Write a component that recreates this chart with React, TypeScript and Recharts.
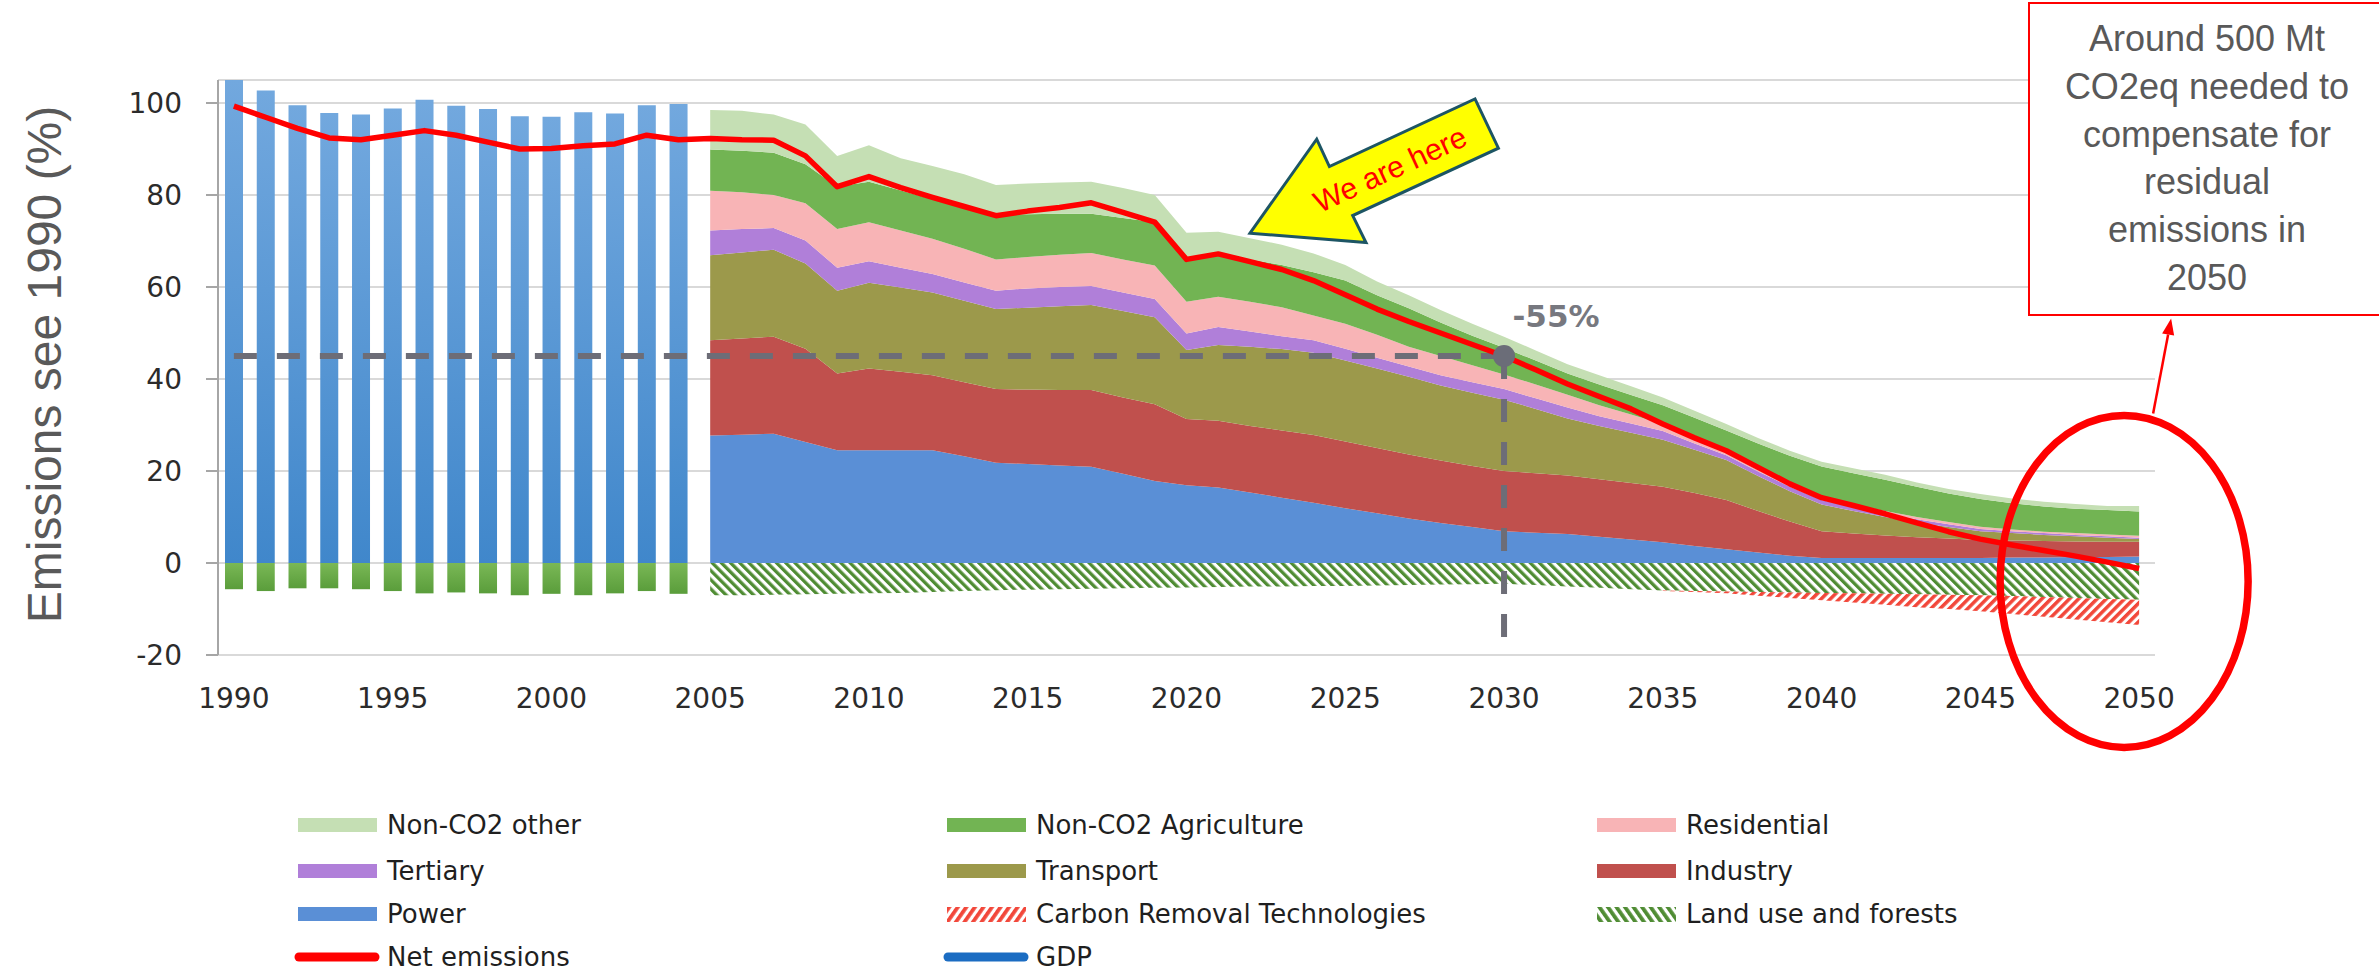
import React from 'react';
import {
  ComposedChart,
  Area,
  Bar,
  Line,
  XAxis,
  YAxis,
  CartesianGrid,
  ReferenceLine,
  ReferenceDot,
} from 'recharts';

// categories: one per year
const years = [
  1990, 1991, 1992, 1993, 1994, 1995, 1996, 1997, 1998, 1999,
  2000, 2001, 2002, 2003, 2004, 2005, 2006, 2007, 2008, 2009,
  2010, 2011, 2012, 2013, 2014, 2015, 2016, 2017, 2018, 2019,
  2020, 2021, 2022, 2023, 2024, 2025, 2026, 2027, 2028, 2029,
  2030, 2031, 2032, 2033, 2034, 2035, 2036, 2037, 2038, 2039,
  2040, 2041, 2042, 2043, 2044, 2045, 2046, 2047, 2048, 2049,
  2050,
];

// historic bars 1990-2004
const histTotal = [105.0, 102.7, 99.5, 97.8, 97.5, 98.8, 100.7, 99.4, 98.7, 97.1, 97.0, 98.0, 97.7, 99.5, 99.8];
const histLandUse = [-5.7, -6.1, -5.5, -5.5, -5.7, -6.1, -6.6, -6.4, -6.6, -7.0, -6.7, -7.0, -6.6, -6.1, -6.7];

// projection areas 2005-2050
const power = [
  27.7, 27.9, 28.1, 26.3, 24.5, 24.5, 24.5, 24.5, 23.2, 21.8,
  21.5, 21.2, 20.9, 19.4, 17.8, 16.9, 16.4, 15.3, 14.2, 13.1,
  11.9, 10.8, 9.7, 8.7, 7.8, 6.9, 6.6, 6.3, 5.7, 5.1,
  4.5, 3.7, 3.0, 2.3, 1.6, 1.1, 1.1, 1.1, 1.1, 1.1,
  1.1, 1.2, 1.2, 1.3, 1.3, 1.4,
];
const industry = [
  20.7, 20.9, 21.1, 20.3, 16.7, 17.8, 17.1, 16.3, 16.1, 16.0,
  16.2, 16.4, 16.7, 16.6, 16.7, 14.4, 14.5, 14.5, 14.6, 14.7,
  14.5, 14.2, 13.9, 13.6, 13.3, 13.1, 12.9, 12.7, 12.5, 12.3,
  12.1, 11.5, 10.7, 9.0, 7.4, 5.8, 5.3, 4.9, 4.5, 4.2,
  3.9, 3.7, 3.6, 3.4, 3.3, 3.2,
];
const transport = [
  18.5, 18.7, 18.9, 18.5, 18.0, 18.6, 18.3, 18.0, 17.7, 17.4,
  17.8, 18.2, 18.5, 18.8, 18.9, 15.0, 16.5, 17.2, 17.7, 17.9,
  17.6, 17.3, 16.9, 16.3, 15.9, 15.5, 14.0, 12.4, 11.6, 10.9,
  10.2, 9.4, 8.7, 7.6, 6.6, 5.8, 4.9, 4.0, 3.2, 2.5,
  1.9, 1.6, 1.3, 1.1, 0.9, 0.6,
];
const tertiary = [
  5.4, 5.1, 4.7, 5.0, 5.0, 4.7, 4.3, 4.0, 4.0, 4.0,
  4.2, 4.2, 4.1, 4.0, 4.0, 3.6, 3.9, 3.3, 2.8, 2.7,
  2.6, 2.3, 2.2, 2.2, 2.3, 2.3, 2.3, 2.4, 2.1, 2.0,
  1.9, 1.4, 1.0, 1.0, 1.0, 1.0, 0.8, 0.7, 0.7, 0.6,
  0.5, 0.4, 0.4, 0.3, 0.3, 0.3,
];
const residential = [
  8.6, 8.0, 7.2, 8.1, 8.4, 8.5, 8.1, 7.7, 7.3, 6.8,
  6.8, 7.0, 7.2, 7.2, 7.3, 6.9, 6.6, 6.5, 6.3, 5.4,
  5.4, 5.0, 4.3, 4.2, 3.7, 3.2, 3.0, 2.8, 2.4, 2.0,
  1.5, 1.3, 1.0, 0.9, 0.8, 0.5, 0.6, 0.6, 0.5, 0.5,
  0.5, 0.4, 0.3, 0.4, 0.4, 0.4,
];
const agriculture = [
  9.0, 9.0, 9.2, 8.5, 9.2, 8.8, 8.7, 8.6, 9.2, 9.8,
  9.3, 8.9, 8.5, 9.0, 9.4, 9.0, 9.4, 9.2, 9.2, 9.4,
  9.4, 8.6, 8.4, 7.3, 6.4, 5.8, 5.2, 4.6, 4.5, 4.2,
  4.1, 4.3, 4.4, 5.2, 5.9, 6.8, 6.8, 6.8, 6.6, 6.2,
  6.0, 5.7, 5.5, 5.3, 5.3, 5.3,
];
const otherNonCo2 = [
  8.6, 8.7, 8.3, 8.6, 6.7, 7.9, 7.0, 7.2, 7.0, 6.4,
  6.7, 6.8, 7.0, 6.5, 5.9, 6.0, 4.7, 4.6, 4.4, 4.1,
  3.4, 3.0, 2.8, 2.7, 2.6, 2.4, 2.2, 2.0, 2.0, 1.9,
  1.7, 1.5, 1.4, 1.2, 1.1, 1.0, 1.1, 1.1, 0.9, 1.0,
  1.1, 1.0, 1.0, 1.0, 0.9, 1.2,
];
const landUse = [
  -7.0, -7.0, -6.9, -6.8, -6.7, -6.6, -6.5, -6.3, -6.1, -5.9,
  -5.8, -5.7, -5.6, -5.5, -5.4, -5.3, -5.2, -5.1, -5.1, -5.0,
  -5.0, -4.9, -4.8, -4.7, -4.6, -4.5, -4.8, -5.1, -5.4, -5.7,
  -6.0, -6.1, -6.2, -6.3, -6.4, -6.5, -6.6, -6.7, -6.8, -6.9,
  -7.0, -7.2, -7.4, -7.6, -7.8, -8.0,
];
const carbonRemoval = [
  null, null, null, null, null, null, null, null, null, null,
  null, null, null, null, null, null, null, null, null, null,
  null, null, null, null, null, null, null, null, null, null,
  -0.1, -0.2, -0.4, -0.8, -1.2, -1.6, -2.0, -2.4, -2.8, -3.1,
  -3.5, -3.9, -4.3, -4.7, -5.1, -5.5,
];

// net emissions 1990-2050
const netEmissions = [
  99.3, 96.9, 94.5, 92.4, 92.0, 93.0, 94.0, 93.0, 91.5, 90.0,
  90.1, 90.7, 91.1, 93.0, 92.0,
  92.3, 92.0, 91.9, 88.5, 81.8, 84.0, 81.6, 79.5, 77.5, 75.5,
  76.5, 77.3, 78.3, 76.2, 74.1, 66.0, 67.2, 65.5, 63.8, 61.4,
  58.3, 55.2, 52.5, 50.0, 47.5, 45.0, 42.0, 38.9, 36.2, 33.5,
  30.2, 27.2, 24.4, 20.8, 17.2, 14.2, 12.5, 10.7, 8.7, 6.8,
  5.2, 3.9, 2.7, 1.5, 0.2, -1.2,
];

const yTicks = [-20, 0, 20, 40, 60, 80, 100];
const targetYear = 2030;
const targetValue = 45;

const HIST = histTotal.length;

const data = years.map((year, i) => {
  const p = i - HIST;
  const proj = (arr: (number | null)[]) => (p >= 0 ? arr[p] : null);
  return {
    year,
    total: i < HIST ? histTotal[i] : null,
    lulucf: i < HIST ? histLandUse[i] : null,
    power: proj(power),
    industry: proj(industry),
    transport: proj(transport),
    tertiary: proj(tertiary),
    residential: proj(residential),
    agriculture: proj(agriculture),
    other: proj(otherNonCo2),
    landUse: proj(landUse),
    crt: proj(carbonRemoval),
    net: netEmissions[i],
  };
});

const C = {
  other: '#c5dfb4',
  agri: '#72b453',
  res: '#f8b4b6',
  tert: '#b07fd9',
  trans: '#9c994b',
  ind: '#c0504d',
  power: '#5a8fd6',
  net: '#ff0000',
  gdp: '#1b6cc2',
  hatchGreen: '#4f8c33',
  hatchRed: '#f2473a',
};

const SANS = 'Liberation Sans, Arial, sans-serif';
const DEJAVU = 'DejaVu Sans, sans-serif';

const renderYLabel = (props: any) => {
  const vb = props.viewBox || { x: 0, y: 80, width: 218, height: 575 };
  const x = vb.x + 61;
  const y = vb.y + vb.height / 2 - 3;
  return (
    <text
      x={x}
      y={y}
      transform={`rotate(-90 ${x} ${y})`}
      textAnchor="middle"
      fontSize={48}
      fontFamily={SANS}
      fill="#595959"
    >
      Emissions see 1990 (%)
    </text>
  );
};

// yellow "We are here" arrow, tip anchored on a data point
const HereArrow = (props: any) => {
  const { cx, cy } = props;
  const pts = [
    [0, 0], [66.7, -94], [79.4, -66.6], [225, -134.3],
    [248.4, -85], [102.7, -17.6], [116, 9.4],
  ].map(([dx, dy]) => `${cx + dx},${cy + dy}`).join(' ');
  const tx = cx + 140;
  const ty = cy - 64;
  return (
    <g>
      <polygon points={pts} fill="#ffff00" stroke="#1d5564" strokeWidth={3} />
      <text
        x={tx}
        y={ty}
        transform={`rotate(-24.8 ${tx} ${ty})`}
        textAnchor="middle"
        dominantBaseline="central"
        fontSize={30}
        fontFamily={SANS}
        fill="#ff0000"
      >
        We are here
      </text>
    </g>
  );
};

const TargetDot = (props: any) => {
  const { cx, cy } = props;
  return (
    <g>
      <circle cx={cx} cy={cy} r={11} fill="#6b6d78" />
      <text
        x={cx + 52}
        y={cy - 40}
        textAnchor="middle"
        dominantBaseline="central"
        fontSize={31}
        fontWeight="bold"
        fontFamily={DEJAVU}
        fill="#77787f"
      >
        -55%
      </text>
    </g>
  );
};

// red ellipse round 2050 with the pointer up to the note
const Callout = (props: any) => {
  const { cx, cy } = props;
  const ex = cx - 15;
  return (
    <g>
      <ellipse cx={ex} cy={cy} rx={124} ry={166} fill="none" stroke="#ff0000" strokeWidth={7.5} />
      <line x1={ex + 29} y1={cy - 168} x2={ex + 44} y2={cy - 247} stroke="#ff0000" strokeWidth={2.5} />
      <polygon
        points={`${ex + 47},${cy - 263} ${ex + 38},${cy - 248} ${ex + 50},${cy - 246}`}
        fill="#ff0000"
      />
    </g>
  );
};

const legendRows = [
  [
    { label: 'Non-CO2 other', kind: 'fill', color: C.other },
    { label: 'Non-CO2 Agriculture', kind: 'fill', color: C.agri },
    { label: 'Residential', kind: 'fill', color: C.res },
  ],
  [
    { label: 'Tertiary', kind: 'fill', color: C.tert },
    { label: 'Transport', kind: 'fill', color: C.trans },
    { label: 'Industry', kind: 'fill', color: C.ind },
  ],
  [
    { label: 'Power', kind: 'fill', color: C.power },
    { label: 'Carbon Removal Technologies', kind: 'hatchRed', color: C.hatchRed },
    { label: 'Land use and forests', kind: 'hatchGreen', color: C.hatchGreen },
  ],
  [
    { label: 'Net emissions', kind: 'line', color: C.net },
    { label: 'GDP', kind: 'line', color: C.gdp },
  ],
];
const legendCols = [298, 947, 1597];
const legendRowY = [825, 871, 914, 957];

const Swatch = ({ kind, color }: { kind: string; color: string }) => {
  if (kind === 'line') {
    return (
      <svg width={86} height={14} style={{ position: 'absolute', left: -4, top: -7 }}>
        <line x1={5} y1={7} x2={81} y2={7} stroke={color} strokeWidth={9} strokeLinecap="round" />
      </svg>
    );
  }
  if (kind === 'hatchRed' || kind === 'hatchGreen') {
    const id = `lg-${kind}`;
    return (
      <svg width={79} height={15} style={{ position: 'absolute', left: 0, top: -7 }}>
        <defs>
          <pattern
            id={id}
            width={7}
            height={7}
            patternUnits="userSpaceOnUse"
            patternTransform={kind === 'hatchRed' ? 'rotate(35)' : 'rotate(-35)'}
          >
            <rect width={7} height={7} fill="#fff" />
            <rect width={3.8} height={7} fill={color} />
          </pattern>
        </defs>
        <rect width={79} height={15} fill={`url(#${id})`} />
      </svg>
    );
  }
  return (
    <div
      style={{ position: 'absolute', left: 0, top: -7, width: 79, height: 14, background: color }}
    />
  );
};

const ChartLegend = () => (
  <>
    {legendRows.map((row, r) =>
      row.map((item, c) => (
        <div
          key={item.label}
          style={{ position: 'absolute', left: legendCols[c], top: legendRowY[r], height: 0 }}
        >
          <Swatch kind={item.kind} color={item.color} />
          <span
            style={{
              position: 'absolute',
              left: 89,
              top: -17,
              whiteSpace: 'nowrap',
              fontFamily: DEJAVU,
              fontSize: 26,
              lineHeight: '34px',
              color: '#1f1f1f',
            }}
          >
            {item.label}
          </span>
        </div>
      )),
    )}
  </>
);

const noteLines = ['Around 500 Mt', 'CO2eq needed to', 'compensate for', 'residual', 'emissions in', '2050'];

export default function App() {
  return (
    <div
      style={{
        position: 'absolute',
        left: 0,
        top: 0,
        width: 2379,
        height: 973,
        overflow: 'hidden',
        background: '#ffffff',
      }}
    >
      <ComposedChart
        width={2379}
        height={780}
        data={data}
        stackOffset="sign"
        margin={{ top: 80, right: 224, left: 0, bottom: 65 }}
      >
        <defs>
          <linearGradient id="barBlue" x1="0" y1="0" x2="0" y2="1">
            <stop offset="0%" stopColor="#72a8de" />
            <stop offset="100%" stopColor="#4087cb" />
          </linearGradient>
          <linearGradient id="barGreen" x1="0" y1="0" x2="0" y2="1">
            <stop offset="0%" stopColor="#7ab856" />
            <stop offset="100%" stopColor="#5a9d3b" />
          </linearGradient>
          <pattern id="hatchLand" width={6.5} height={6.5} patternUnits="userSpaceOnUse" patternTransform="rotate(-45)">
            <rect width={6.5} height={6.5} fill="#ffffff" />
            <rect width={3.3} height={6.5} fill={C.hatchGreen} />
          </pattern>
          <pattern id="hatchCrt" width={6.5} height={6.5} patternUnits="userSpaceOnUse" patternTransform="rotate(45)">
            <rect width={6.5} height={6.5} fill="#ffffff" />
            <rect width={3.5} height={6.5} fill={C.hatchRed} />
          </pattern>
        </defs>

        <CartesianGrid vertical={false} stroke="#d9d9d9" strokeWidth={2} />
        <XAxis
          dataKey="year"
          interval={4}
          tickLine={false}
          axisLine={false}
          tickSize={0}
          tickMargin={33}
          height={60}
          tick={{ fontSize: 28, fontFamily: DEJAVU, fill: '#2b2b2b' }}
        />
        <YAxis
          type="number"
          domain={[-20, 105]}
          ticks={yTicks}
          allowDataOverflow
          width={218}
          axisLine={{ stroke: '#a6a6a6', strokeWidth: 2 }}
          tickLine={{ stroke: '#a6a6a6', strokeWidth: 2 }}
          tickSize={12}
          tickMargin={24}
          tick={{ fontSize: 28, fontFamily: DEJAVU, fill: '#2b2b2b' }}
          label={{ content: renderYLabel }}
        />

        <Bar dataKey="total" stackId="hist" fill="url(#barBlue)" barSize={18} isAnimationActive={false} />
        <Bar dataKey="lulucf" stackId="hist" fill="url(#barGreen)" barSize={18} isAnimationActive={false} />

        <Area dataKey="landUse" stackId="proj" type="linear" fill="url(#hatchLand)" fillOpacity={1} stroke="none" isAnimationActive={false} />
        <Area dataKey="crt" stackId="proj" type="linear" fill="url(#hatchCrt)" fillOpacity={1} stroke="none" isAnimationActive={false} />
        <Area dataKey="power" stackId="proj" type="linear" fill={C.power} fillOpacity={1} stroke="none" isAnimationActive={false} />
        <Area dataKey="industry" stackId="proj" type="linear" fill={C.ind} fillOpacity={1} stroke="none" isAnimationActive={false} />
        <Area dataKey="transport" stackId="proj" type="linear" fill={C.trans} fillOpacity={1} stroke="none" isAnimationActive={false} />
        <Area dataKey="tertiary" stackId="proj" type="linear" fill={C.tert} fillOpacity={1} stroke="none" isAnimationActive={false} />
        <Area dataKey="residential" stackId="proj" type="linear" fill={C.res} fillOpacity={1} stroke="none" isAnimationActive={false} />
        <Area dataKey="agriculture" stackId="proj" type="linear" fill={C.agri} fillOpacity={1} stroke="none" isAnimationActive={false} />
        <Area dataKey="other" stackId="proj" type="linear" fill={C.other} fillOpacity={1} stroke="none" isAnimationActive={false} />

        <ReferenceLine
          segment={[{ x: 1990, y: targetValue }, { x: targetYear, y: targetValue }]}
          stroke="#6d6d77"
          strokeWidth={6}
          strokeDasharray="23 20"
          ifOverflow="visible"
        />
        <ReferenceLine
          segment={[{ x: targetYear, y: targetValue }, { x: targetYear, y: -18 }]}
          stroke="#6d6d77"
          strokeWidth={6}
          strokeDasharray="23 20"
          ifOverflow="visible"
        />

        <Line
          dataKey="net"
          type="linear"
          stroke={C.net}
          strokeWidth={5.5}
          strokeLinejoin="round"
          dot={false}
          activeDot={false}
          isAnimationActive={false}
        />

        <ReferenceDot x={targetYear} y={targetValue} r={11} shape={TargetDot} ifOverflow="visible" />
        <ReferenceDot x={2022} y={71.7} r={0} shape={HereArrow} ifOverflow="visible" />
        <ReferenceDot x={2050} y={-4} r={0} shape={Callout} ifOverflow="visible" />
      </ComposedChart>

      <div
        style={{
          position: 'absolute',
          left: 2028,
          top: 2,
          width: 354,
          height: 299,
          paddingTop: 11,
          border: '2px solid #ff0000',
          background: '#ffffff',
          textAlign: 'center',
          fontFamily: SANS,
          fontSize: 36,
          lineHeight: '47.8px',
          color: '#595959',
        }}
      >
        {noteLines.map((l) => (
          <div key={l}>{l}</div>
        ))}
      </div>

      <ChartLegend />
    </div>
  );
}
